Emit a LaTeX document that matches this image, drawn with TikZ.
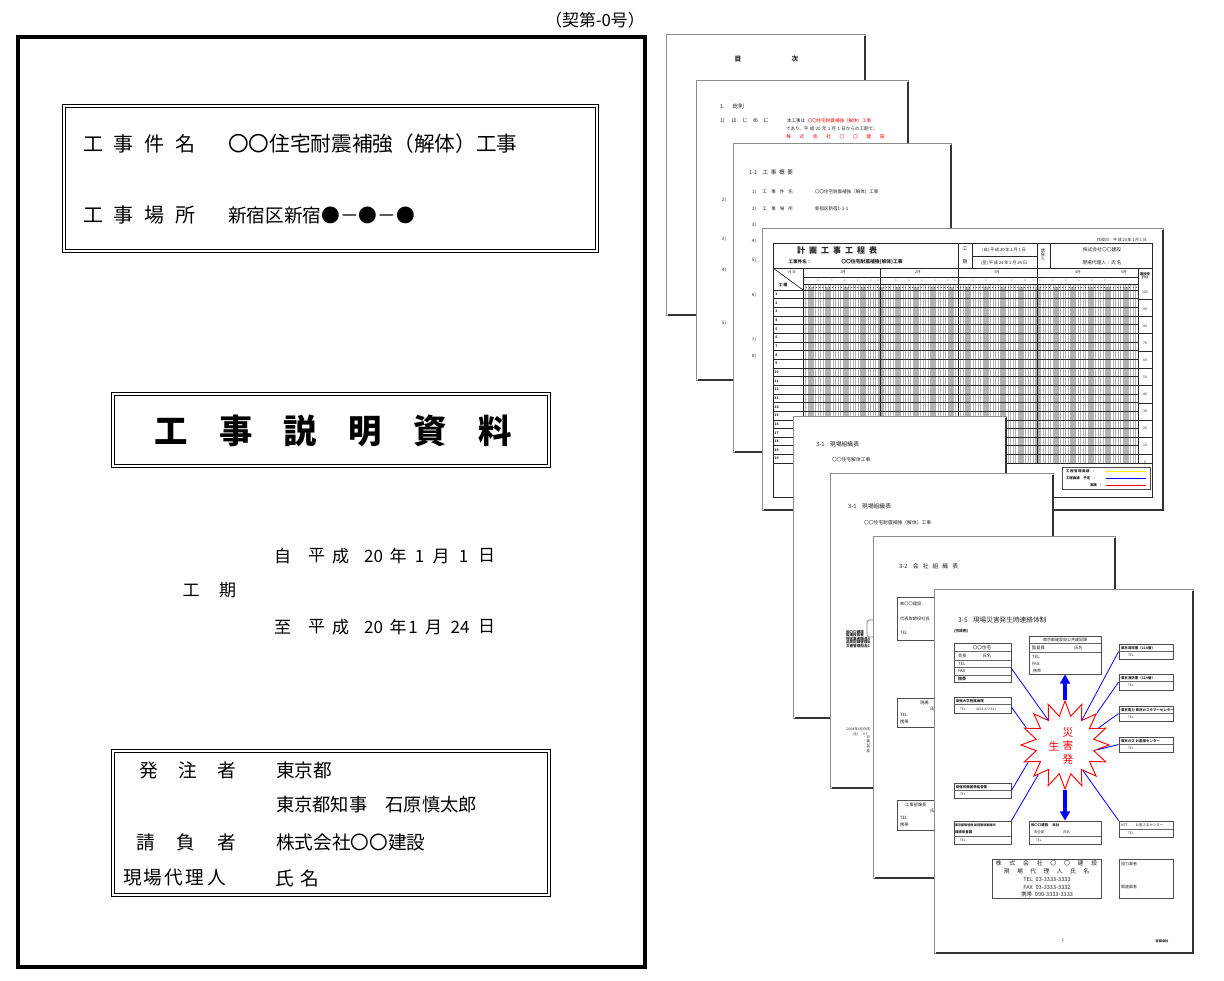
\documentclass[tikz,border=0pt]{standalone}
\usepackage{fontspec}
\setmainfont{Noto Sans CJK JP}
\usetikzlibrary{shapes.geometric,arrows.meta,fit,calc}
\newcommand\fz[1]{\fontsize{#1}{#1}\selectfont}
\newcommand\mypage[4]{%
 \fill[white] (#1,#2) rectangle (#3,#4);
 \draw[pgline] (#1,#2) rectangle (#3,#4);
 \draw[pgshadow] ({#1+2},#4) -- (#3,#4) -- (#3,{#2+2});}
\newcommand\sboxn[5]{\node[sb, fit={(#2,#3) (#4,#5)}] (#1) {};}
\tikzset{
 T/.style={inner sep=0pt, outer sep=0pt},
 pt/.style={T, text=black!85},
 pgline/.style={draw=black!45, line width=0.6pt},
 pgshadow/.style={draw=black!80, line width=1.3pt},
 sb/.style={draw=black!70, line width=0.6pt, fill=white, inner sep=0pt},
 sep/.style={draw=black!60, line width=0.35pt},
 bl/.style={draw=blue, line width=0.6pt},
 bigarrow/.style={draw=blue, line width=2.4pt, -{Triangle[length=7pt,width=7.5pt]}},
 dbl/.style={draw=black, double, double distance=1.6pt, line width=0.6pt, inner sep=0pt},
 gt/.style={draw=black!85, line width=0.5pt},
 dayline/.style={draw=black!30, line width=0.25pt},
}
\begin{document}
\begin{tikzpicture}[x=0.75pt,y=-0.75pt]
\useasboundingbox (0,0) rectangle (1224,981);
\fill[white] (0,0) rectangle (1224,981);

% ---------------- cover page ----------------
\node[T, font=\fz{12.6pt}] (keino) at (595,20) {（契第-0号）};
\node[draw=black, line width=2.4pt, inner sep=0pt, fit={(18,37) (645,967)}] (cover) {};

\node[dbl, fit={(64,106) (597,251)}] (box1) {};
\node[T, anchor=west, font=\fz{15pt}] (l1a) at (83,144) {\makebox[84pt][s]{工\hfill 事\hfill 件\hfill 名}};
\node[T, anchor=west, font=\fz{15.5pt}] (l1b) at (228,144) {〇〇住宅耐震補強（解体）工事};
\node[T, anchor=west, font=\fz{15pt}] (l2a) at (83,215) {\makebox[84pt][s]{工\hfill 事\hfill 場\hfill 所}};
\node[T, anchor=west, font=\fz{14pt}] (l2b) at (228,215) {新宿区新宿●－●－●};

\node[dbl, fit={(113,394) (549,466)}] (tbox) {};
\node[T, font=\fz{25pt}\bfseries] (title) at (333,431) {\makebox[268pt][s]{工\hfill 事\hfill 説\hfill 明\hfill 資\hfill 料}};

\foreach \xx/\tt [count=\i] in {282.5/自,316.5/平,340.5/成,373.5/20,398/年,419.5/1,441/月,463.5/1,486.5/日}
  \node[T, font=\fz{12.75pt}] (da\i) at (\xx,556) {\tt};
\node[T, font=\fz{12.75pt}] (kk1) at (191,590) {工};
\node[T, font=\fz{12.75pt}] (kk2) at (227.5,590) {期};
\foreach \xx/\tt [count=\i] in {282.5/至,316.5/平,340.5/成,373.5/20,398/年,413/1,433.5/月,460/24,486.5/日}
  \node[T, font=\fz{12.75pt}] (db\i) at (\xx,627) {\tt};

\node[dbl, fit={(113,751) (549,895)}] (box3) {};
\foreach \xx/\tt [count=\i] in {149/発,187.5/注,226.5/者}
  \node[T, font=\fz{14pt}] (ra\i) at (\xx,770) {\tt};
\node[T, anchor=west, font=\fz{14pt}] (rb1) at (276,770) {東京都};
\node[T, anchor=west, font=\fz{13.7pt}] (rb2) at (276,805) {東京都知事　石原慎太郎};
\foreach \xx/\tt [count=\i] in {146/請,186/負,226.5/者}
  \node[T, font=\fz{14pt}] (rc\i) at (\xx,842) {\tt};
\node[T, anchor=west, font=\fz{14pt}] (rb3) at (276,842) {株式会社〇〇建設};
\foreach \xx/\tt [count=\i] in {133/現,153/場,174/代,195/理,216.5/人,285/氏,309.5/名}
  \node[T, font=\fz{14pt}] (rd\i) at (\xx,878) {\tt};

% ---------------- P1 ----------------
\mypage{666}{34}{865}{315}
\node[pt, font=\fz{5pt}\bfseries] (p1a) at (738,59) {目};
\node[pt, font=\fz{5pt}\bfseries] (p1b) at (795,59) {次};

% ---------------- P2 ----------------
\mypage{696}{80}{908}{380}
\node[pt, anchor=west, font=\fz{4.2pt}] (p2a) at (720,106) {1.\hspace{6pt}総則};
\node[pt, anchor=west, font=\fz{4pt}] (p2b) at (720,121) {1)\hspace{5pt}は\hspace{4pt}じ\hspace{4pt}め\hspace{4pt}に};
\node[pt, anchor=west, font=\fz{3.4pt}] (p2c) at (787,121) {本工事は\hspace{2pt}\textcolor{red}{〇〇住宅耐震補強（解体）工事}};
\node[pt, anchor=west, font=\fz{3.4pt}] (p2d) at (786,129) {であり、平\hspace{1pt}成\hspace{1pt}20\hspace{1pt}年\hspace{1pt}1\hspace{1pt}月\hspace{1pt}1\hspace{1pt}日からの工期で、};
\node[T, anchor=west, font=\fz{3.6pt}, text=red] (p2e) at (786,137) {\makebox[74pt][s]{株\hfill 式\hfill 会\hfill 社\hfill 〇\hfill 〇\hfill 建\hfill 設}};
\foreach \yy/\lab [count=\i] in {200/2),239/3),270/4),323/5)}
  \node[pt, font=\fz{3.4pt}] (p2n\i) at (724,\yy) {\lab};

% ---------------- P3 ----------------
\mypage{733}{143}{951}{452}
\node[pt, anchor=west, font=\fz{4.2pt}] (p3a) at (749,172) {1-1\hspace{4pt}工\hspace{2pt}事\hspace{2pt}概\hspace{2pt}要};
\node[pt, anchor=west, font=\fz{3.4pt}] (p3b) at (752,192) {1)\hspace{5pt}工\hspace{3pt}事\hspace{3pt}件\hspace{3pt}名};
\node[pt, anchor=west, font=\fz{3.4pt}] (p3c) at (815,192) {〇〇住宅耐震補強（解体）工事};
\node[pt, anchor=west, font=\fz{3.4pt}] (p3d) at (752,209) {2)\hspace{5pt}工\hspace{3pt}事\hspace{3pt}場\hspace{3pt}所};
\node[pt, anchor=west, font=\fz{3.4pt}] (p3e) at (815,209) {新宿区新宿1-1-1};
\foreach \yy/\lab [count=\i] in {225/3),241/4),260/5),295/6),340/7),356/8)}
  \node[pt, font=\fz{3.4pt}] (p3n\i) at (754,\yy) {\lab};

% ---------------- P4 : gantt ----------------
\mypage{762}{228}{1163}{510}
\foreach \i in {0,...,133}
  \draw[dayline] ({803+2.5*\i},284) -- ({803+2.5*\i},463);
\foreach \w in {0,...,18}
  \fill[black!30] ({808+17.5*\w},287) rectangle ++(4.5,176);
\draw[gt] (773,243) rectangle (1152,497);
\draw[gt] (773,268) -- (1152,268);
\foreach \xx in {958,972,1037,1050} \draw[gt] (\xx,243) -- (\xx,268);
\draw[gt] (972,256) -- (1037,256);
\draw[gt] (803,277) -- (1138,277);
\draw[gt] (803,284) -- (1138,284);
\draw[black!70, line width=0.4pt, dotted] (803,287.5) -- (1138,287.5);
\draw[gt] (803,268) -- (803,463);
\draw[gt] (1138,268) -- (1138,463);
\foreach \xx in {880,958,1037} \draw[gt, line width=0.7pt] (\xx,268) -- (\xx,463);
\draw[gt] (773,268) -- (803,290);
\foreach \r in {0,...,20}
  \draw[gt, line width=0.35pt] (773,{290+8.65*\r}) -- (1138,{290+8.65*\r});
\foreach \r in {1,...,20}
  \node[pt, font=\fz{2.6pt}\bfseries] (rn\r) at (776.5,{290+8.65*\r-4.3}) {\r};
\foreach \k in {0,...,9}
  \draw[gt, line width=0.35pt] (1138,{299+17.3*\k}) -- (1152,{299+17.3*\k});
\foreach \k [evaluate=\k as \v using int(100-10*\k)] in {0,...,10}
  \node[pt, font=\fz{2.6pt}] (pv\k) at (1145,{292+17*\k}) {\v};
\draw[gt] (773,463) -- (1152,463);
\node[pt, font=\fz{2.6pt}\bfseries, align=center] (prog) at (1145,276) {進捗率\\(\%)};
\node[pt, font=\fz{6pt}\bfseries] (gtitle) at (837,250) {計\hspace{3pt}画\hspace{3pt}工\hspace{3pt}事\hspace{3pt}工\hspace{3pt}程\hspace{3pt}表};
\node[pt, font=\fz{3.4pt}\bfseries] (gname1) at (800,262) {工事件名：};
\node[pt, font=\fz{3.6pt}\bfseries] (gname2) at (872,262) {〇〇住宅耐震補強(解体)工事};
\node[pt, font=\fz{3pt}] (gdate) at (1122,240) {作成日：平\,成\,20\,年\,1\,月\,1\,日};
\node[pt, font=\fz{3.6pt}] (gk1) at (965,249) {工};
\node[pt, font=\fz{3.6pt}] (gk2) at (965,262) {期};
\node[pt, font=\fz{3.2pt}] (gs1) at (1004,250) {(自)\,平\,成\,20\,年\,1\,月\,1\,日};
\node[pt, font=\fz{3.2pt}] (gs2) at (1004,263) {(至)\,平\,成\,20\,年\,1\,月\,24\,日};
\node[pt, font=\fz{3.2pt}, align=center] (gu) at (1043,255) {請\\負\\人};
\node[pt, font=\fz{3.6pt}] (gc1) at (1102,250) {株式会社〇〇建設};
\node[pt, font=\fz{3.6pt}] (gc2) at (1102,263) {現場代理人：氏 名};
\node[pt, font=\fz{2.6pt}] (gmd) at (792,272) {月 日};
\node[pt, font=\fz{3pt}\bfseries] (gks) at (783,285) {工 種};
\foreach \xx/\mm [count=\i] in {843/1月,918/2月,997/3月,1078/4月,1124/5月}
  \node[pt, font=\fz{2.8pt}] (gm\i) at (\xx,272.5) {\mm};
\foreach \xx [count=\i] in {805,818,832,845,858,871,878,883,896,909,922,935,948,955,960,973,986,999,1012,1025,1034,1040,1053,1066,1079,1092,1105}
  \node[pt, font=\fz{1.8pt}] (gd\i) at (\xx,280.5) {1};
\node[sb, fit={(1062,467) (1150,489)}] (legend) {};
\node[pt, font=\fz{2.6pt}\bfseries, anchor=west] (lg1) at (1066,471.5) {工\,程\,管\,理\,曲\,線\quad :};
\node[pt, font=\fz{2.6pt}\bfseries, anchor=west] (lg2) at (1066,478.5) {工程曲線\quad 予定\quad :};
\node[pt, font=\fz{2.6pt}\bfseries, anchor=west] (lg3) at (1090,485.5) {実績\quad :};
\draw[yellow, line width=0.8pt] (1106,471.5) -- (1146,471.5);
\draw[blue, line width=0.8pt] (1106,478.5) -- (1146,478.5);
\draw[red, line width=0.8pt] (1106,485.5) -- (1146,485.5);

% ---------------- P5 ----------------
\mypage{793}{416}{1006}{718}
\node[pt, anchor=west, font=\fz{4.4pt}] (p5a) at (816,444) {3-1\hspace{4pt}現場組織表};
\node[pt, anchor=west, font=\fz{3.6pt}] (p5b) at (832,460) {〇〇住宅解体工事};

% ---------------- P6 ----------------
\mypage{830}{473}{1053}{788}
\node[pt, anchor=west, font=\fz{4.4pt}] (p6a) at (848,506) {3-1\hspace{4pt}現場組織表};
\node[pt, anchor=west, font=\fz{3.6pt}] (p6b) at (864,523) {〇〇住宅耐震補強（解体）工事};
\draw[black!50, line width=0.5pt, rounded corners=2pt] (867,620) rectangle (890,637);
\node[pt, anchor=north west, font=\fz{2.7pt}\bfseries, align=left] (p6c) at (846,630) {㈱〇〇建設\\監理技術者\\特定業者職長A\\品質記録管理B\\文書管理担当C};
\node[pt, anchor=north west, font=\fz{2.5pt}, align=left] (p6d) at (846,728) {(2008年6月作成)\\\hspace{5pt}(注)\hspace{3pt}※7\\\hspace{13pt}・日\\\hspace{13pt}・職\\\hspace{13pt}・公\\\hspace{13pt}・労\\\hspace{13pt}・廃};

% ---------------- P7 ----------------
\mypage{873}{536}{1115}{878}
\node[pt, anchor=west, font=\fz{4.4pt}] (p7a) at (899,566) {3-2\hspace{4pt}会\hspace{3pt}社\hspace{3pt}組\hspace{3pt}織\hspace{3pt}表};
\sboxn{cb1}{897}{597}{945}{640}
\node[pt, anchor=west, font=\fz{3.2pt}] (cb1a) at (900,604) {㈱〇〇建設};
\node[pt, anchor=west, font=\fz{3.2pt}] (cb1b) at (900,619) {代表取締役社長};
\node[pt, anchor=west, font=\fz{3.2pt}] (cb1c) at (900,633) {TEL};
\sboxn{cb2}{897}{698}{945}{727}
\node[pt, anchor=west, font=\fz{3.2pt}] (cb2a) at (920,703) {現場};
\node[pt, anchor=west, font=\fz{3.2pt}] (cb2b) at (930,709) {氏};
\node[pt, anchor=west, font=\fz{3.2pt}] (cb2c) at (900,715) {TEL};
\node[pt, anchor=west, font=\fz{3.2pt}] (cb2d) at (900,722) {携帯};
\sboxn{cb3}{897}{800}{945}{830}
\node[pt, anchor=west, font=\fz{3.2pt}] (cb3a) at (905,805) {工事部課長};
\node[pt, anchor=west, font=\fz{3.2pt}] (cb3b) at (930,811) {氏};
\node[pt, anchor=west, font=\fz{3.2pt}] (cb3c) at (900,818) {TEL};
\node[pt, anchor=west, font=\fz{3.2pt}] (cb3d) at (900,825) {携帯};

% ---------------- P8 ----------------
\mypage{934}{589}{1193}{953}
\node[pt, anchor=west, font=\fz{5pt}] (p8t) at (958,620) {3-5\hspace{4pt}現場災害発生時連絡体制};
\node[pt, anchor=west, font=\fz{2.8pt}\bfseries] (p8s) at (954,631) {(作成例)};

\sboxn{bA}{954}{643}{1011}{682}
\node[pt, font=\fz{3.4pt}] (bA1) at (982,647.5) {〇〇住宅};
\draw[sep] (954,651.5) -- (1011,651.5);
\node[pt, anchor=west, font=\fz{3.2pt}] (bA2) at (958,656) {会長\hspace{12pt}氏名};
\draw[sep] (954,660) -- (1011,660);
\node[pt, anchor=west, font=\fz{3.2pt}] (bA3) at (958,663.5) {TEL};
\draw[sep] (954,667.5) -- (1011,667.5);
\node[pt, anchor=west, font=\fz{3.2pt}] (bA4) at (958,671) {FAX};
\draw[sep] (954,675) -- (1011,675);
\node[pt, anchor=west, font=\fz{3pt}\bfseries] (bA5) at (958,678.5) {携帯};

\sboxn{bB}{1029}{636}{1101}{674}
\node[pt, font=\fz{3pt}] (bB1) at (1065,640) {東京都建設局公共建設課};
\draw[sep] (1029,643.5) -- (1101,643.5);
\node[pt, anchor=west, font=\fz{3.2pt}] (bB2) at (1032,648) {監督員\hspace{22pt}氏名};
\draw[sep] (1029,652) -- (1101,652);
\node[pt, anchor=west, font=\fz{3.2pt}] (bB3) at (1032,656.5) {TEL:};
\node[pt, anchor=west, font=\fz{3.2pt}] (bB4) at (1032,664) {FAX:};
\node[pt, anchor=west, font=\fz{3pt}] (bB5) at (1033,671) {携帯};

\foreach \nm/\ya/\yb/\tx in {R1/644/659/東京湾岸署（110番）,R2/674/690/東京消防署（119番）,R3/706/721/東京電力\ 東京カスタマーセンター,R4/737/752/東京ガス\ お客様センター}{
  \sboxn{\nm}{1119}{\ya}{1173}{\yb}
  \node[pt, anchor=west, font=\fz{2.6pt}\bfseries] (\nm a) at (1121,{\ya+4}) {\tx};
  \draw[sep] (1119,{\ya+7.5}) -- (1173,{\ya+7.5});
  \node[pt, anchor=west, font=\fz{2.4pt}] (\nm b) at (1128,{\ya+11.5}) {TEL};
}

\sboxn{bH}{954}{697}{1011}{713}
\node[pt, anchor=west, font=\fz{2.6pt}\bfseries] (bH1) at (956,701) {新宿大学附属病院};
\draw[sep] (954,704.5) -- (1011,704.5);
\node[pt, anchor=west, font=\fz{2.4pt}] (bH2) at (960,709) {TEL\hspace{8pt}0422-47-5511};

\sboxn{bL}{954}{783}{1011}{798}
\node[pt, anchor=west, font=\fz{2.6pt}\bfseries] (bL1) at (956,787) {新宿労働基準監督署};
\draw[sep] (954,790.5) -- (1011,790.5);
\node[pt, anchor=west, font=\fz{2.4pt}] (bL2) at (960,794.5) {TEL};

\sboxn{bE}{954}{821}{1011}{844}
\node[pt, anchor=west, font=\fz{2.3pt}\bfseries] (bE1) at (955,825) {東京都環境局\ 新宿環境事務所};
\node[pt, anchor=west, font=\fz{2.6pt}\bfseries] (bE2) at (955,832) {環境改善課};
\draw[sep] (954,836) -- (1011,836);
\node[pt, anchor=west, font=\fz{2.4pt}] (bE3) at (960,840) {TEL};

\sboxn{bC}{1029}{821}{1101}{844}
\node[pt, anchor=west, font=\fz{2.6pt}\bfseries] (bC1) at (1031,825) {㈱〇〇建設\hspace{3pt}本社};
\node[pt, anchor=west, font=\fz{2.6pt}] (bC2) at (1034,832) {安全部\hspace{14pt}氏名};
\draw[sep] (1029,836) -- (1101,836);
\node[pt, anchor=west, font=\fz{2.4pt}] (bC3) at (1036,840) {TEL};

\sboxn{bN}{1119}{821}{1173}{837}
\node[pt, anchor=west, font=\fz{2.6pt}] (bN1) at (1121,825) {NTT\hspace{6pt}お客さまセンター};
\draw[sep] (1119,829) -- (1173,829);
\node[pt, anchor=west, font=\fz{2.4pt}] (bN2) at (1128,833) {TEL};

\sboxn{bS}{992}{859}{1101}{898}
\node[pt, font=\fz{4.4pt}] (bS1) at (1046.5,863.5) {\makebox[76pt][s]{株\hfill 式\hfill 会\hfill 社\hfill 〇\hfill 〇\hfill 建\hfill 設}};
\node[pt, font=\fz{4.4pt}] (bS2) at (1046.5,871) {\makebox[64pt][s]{現\hfill 場\hfill 代\hfill 理\hfill 人\hfill 氏\hfill 名}};
\node[pt, font=\fz{4.2pt}] (bS3) at (1047,879) {TEL\hspace{2pt}03-3333-3333};
\node[pt, font=\fz{4.2pt}] (bS4) at (1047,887) {FAX\hspace{2pt}03-3333-3332};
\node[pt, font=\fz{4.2pt}] (bS5) at (1047,894.5) {携帯\hspace{2pt}090-3333-3333};

\sboxn{bP}{1119}{859}{1173}{898}
\node[pt, anchor=west, font=\fz{3pt}] (bP1) at (1121,864) {協力業者};
\node[pt, anchor=west, font=\fz{3pt}] (bP2) at (1121,887) {関連業者};

\node[pt, font=\fz{3pt}] (pnum) at (1063,940) {1};
\node[pt, font=\fz{2.4pt}\bfseries] (pco) at (1162,941) {有限会社};

% starburst
\node[star, star points=16, star point ratio=1.5, draw=red, fill=white, line width=0.7pt, minimum size=66pt, inner sep=0pt] (burst) at (1065,745) {};
\node[T, text=red, font=\fz{8pt}] (s1) at (1068,732) {災};
\node[T, text=red, font=\fz{8pt}] (s2) at (1054,746) {生};
\node[T, text=red, font=\fz{8pt}] (s3) at (1068,745) {害};
\node[T, text=red, font=\fz{8pt}] (s4) at (1068,759) {発};

\draw[bigarrow] (burst.north) -- (bB.south);
\draw[bigarrow] (burst.south) -- (bC.north);
\draw[bl] (burst.124) -- ($(bA.south east)+(0,-14)$);
\draw[bl] (burst.156) -- ($(bH.east)+(0,2)$);
\draw[bl] (burst.56) -- (R1.west);
\draw[bl] (burst.45) -- (R2.west);
\draw[bl] (burst.27) -- (R3.west);
\draw[bl] (burst.-8) -- (R4.west);
\draw[bl] (burst.205) -- (bL.east);
\draw[bl] (burst.228) -- (bE.north east);
\draw[bl] (burst.-55) -- (bN.north west);
\end{tikzpicture}
\end{document}
